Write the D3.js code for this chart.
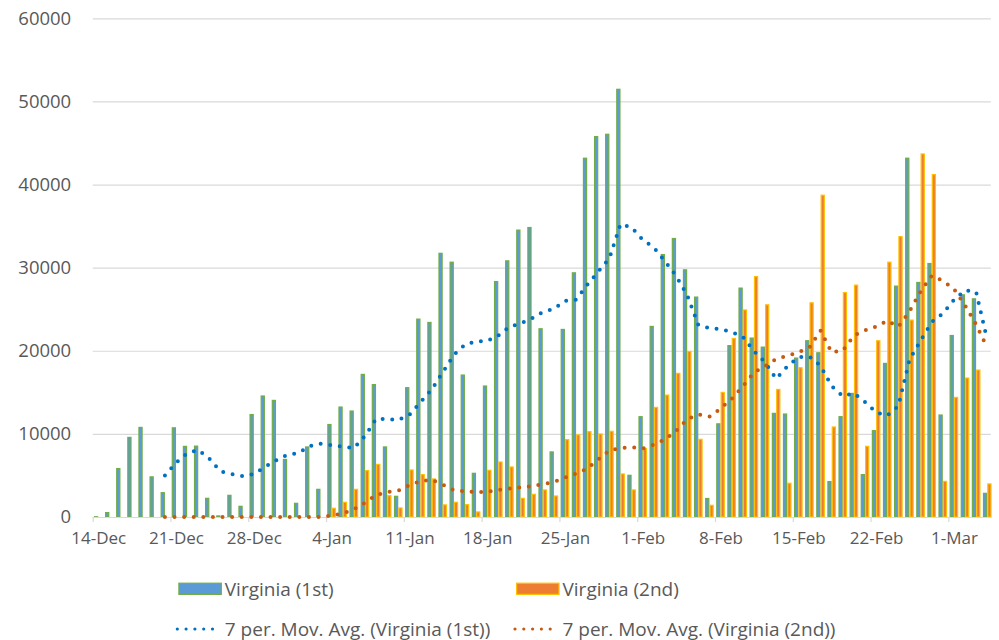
<!DOCTYPE html>
<html>
<head>
<meta charset="utf-8">
<script src="https://cdn.jsdelivr.net/npm/d3@7"></script>
<style>
  body { margin: 0; background: #fff; }
  text { font-family: "Open Sans", "Noto Sans", sans-serif; fill: #595959; }
</style>
</head>
<body>
<div id="chart"></div>
<script>
// daily doses, 14-Dec to 4-Mar
var startDay = new Date(2020, 11, 14);
var endDay = new Date(2021, 2, 5);
var days = d3.timeDay.range(startDay, endDay);

var seriesNames = ["Virginia (1st)", "Virginia (2nd)"];
var maNames = ["7 per. Mov. Avg. (Virginia (1st))", "7 per. Mov. Avg. (Virginia (2nd))"];

var firstDose = [100, 600, 5900, 9650, 10850, 4900, 3000, 10800, 8570, 8600,
  2320, 200, 2680, 1360, 12400, 14630, 14100, 7000, 1720, 8500,
  3400, 11200, 13300, 12820, 17230, 16000, 8500, 2560, 15630, 23880,
  23480, 31800, 30730, 17150, 5330, 15830, 28400, 30890, 34590, 34900,
  22720, 7900, 22640, 29450, 43240, 45840, 46120, 51530, 5090, 12140,
  23000, 31650, 33580, 29810, 26530, 2300, 11280, 20690, 27610, 21600,
  20510, 12540, 12460, 19190, 21280, 19830, 4330, 12140, 14940, 5170,
  10460, 18550, 27850, 43240, 28290, 30570, 12340, 21910, 26800, 26320,
  2920];

var secondDose = [0, 0, 0, 0, 0, 0, 0, 0, 0, 0,
  0, 0, 0, 0, 0, 0, 0, 0, 0, 0,
  0, 1120, 1840, 3400, 5650, 6400, 2640, 1160, 5730, 5170,
  4650, 1530, 1840, 1560, 680, 5690, 6690, 6090, 2320, 2800,
  3330, 2600, 9380, 9950, 10340, 10060, 10380, 5250, 3330, 8290,
  13260, 14740, 17350, 19990, 9420, 1480, 15060, 21550, 24980, 29000,
  25600, 15420, 4130, 18030, 25840, 38790, 10900, 27080, 27970, 8570,
  21280, 30730, 33810, 23760, 43750, 41270, 4360, 14460, 16790, 17750,
  4050];

var yTicks = [0, 10000, 20000, 30000, 40000, 50000, 60000];

var barFill = ["#5B9BD5", "#ED7D31"];
var barEdge = ["#70AD47", "#FFC000"];
var maColor = ["#0070C0", "#C55A11"];

var svgWidth = 999, svgHeight = 640;
var plotLeft = 92.7, plotRight = 992.8, plotTop = 18.3, plotBottom = 517;

var svg = d3.select("#chart").append("svg")
  .attr("width", svgWidth)
  .attr("height", svgHeight);

var x = d3.scaleTime().domain([startDay, endDay]).range([plotLeft, plotRight]);
var y = d3.scaleLinear().domain([0, 60000]).range([plotBottom, plotTop]);
var dayW = x(d3.timeDay.offset(startDay, 1)) - x(startDay);
var inner = d3.scaleBand().domain([0, 1]).range([1.2, 9.9]);

// gridlines
svg.append("g")
  .attr("transform", `translate(${plotLeft},0)`)
  .call(d3.axisLeft(y).tickValues(yTicks.slice(1)).tickSize(-(plotRight - plotLeft - 2)).tickFormat(""))
  .call(g => g.select(".domain").remove())
  .call(g => g.selectAll("line").attr("stroke", "#D9D9D9").attr("stroke-width", 1.2));

// y labels
svg.append("g")
  .attr("transform", `translate(${plotLeft},0)`)
  .call(d3.axisLeft(y).tickValues(yTicks).tickSize(0).tickPadding(21.5).tickFormat(d3.format("d")))
  .call(g => g.select(".domain").remove())
  .call(g => g.selectAll("text").style("font-size", "18.5px").attr("fill", "#595959"));

// bars
var seriesData = [firstDose, secondDose];
seriesData.forEach(function (vals, s) {
  svg.append("g").selectAll("rect")
    .data(vals)
    .enter()
    .append("rect")
    .attr("x", (d, i) => x(days[i]) + inner(s) + 0.6)
    .attr("width", inner.bandwidth() - 1.2)
    .attr("y", d => y(d) + 0.6)
    .attr("height", d => Math.max(0, plotBottom - y(d) - 0.6))
    .attr("fill", barFill[s])
    .attr("stroke", d => d > 0 ? barEdge[s] : "none")
    .attr("stroke-width", 1.2);
});

// x axis
var weekTicks = d3.timeDay.range(startDay, endDay, 7);
svg.append("g")
  .attr("transform", `translate(0,${plotBottom})`)
  .call(d3.axisBottom(x).tickValues(weekTicks).tickSize(5).tickPadding(10)
    .tickFormat(d3.timeFormat("%-d-%b")))
  .call(g => g.select(".domain").attr("stroke", "#D9D9D9").attr("stroke-width", 1.2)
    .attr("d", `M${plotLeft},0.5H${plotRight - 2}`))
  .call(g => g.selectAll("line").attr("stroke", "#D9D9D9").attr("stroke-width", 1.2))
  .call(g => g.selectAll("text").attr("dx", dayW / 2).style("font-size", "17px").attr("fill", "#595959"));

// 7 per. moving average trendlines
var line = d3.line()
  .x(d => x(days[d.i]) + dayW / 2)
  .y(d => y(d.v));

seriesData.forEach(function (vals, s) {
  var ma = [];
  for (var i = 6; i < vals.length; i++) {
    ma.push({ i: i, v: d3.mean(vals.slice(i - 6, i + 1)) });
  }
  svg.append("path")
    .datum(ma)
    .attr("d", line)
    .attr("fill", "none")
    .attr("stroke", maColor[s])
    .attr("stroke-width", 4)
    .attr("stroke-linecap", "round")
    .attr("stroke-dasharray", "0 9.6");
});

// legend
var legend = svg.append("g").style("font-size", "19px");
var legX = [178.3, 516];
seriesNames.forEach(function (name, s) {
  legend.append("rect")
    .attr("x", legX[s] + 0.6).attr("y", 583.2)
    .attr("width", 42.4).attr("height", 11.2)
    .attr("fill", barFill[s])
    .attr("stroke", barEdge[s])
    .attr("stroke-width", 1.2);
  legend.append("text")
    .attr("x", legX[s] + 46.5).attr("y", 595.5)
    .text(name);
});
maNames.forEach(function (name, s) {
  legend.append("line")
    .attr("x1", legX[s] - 1).attr("x2", legX[s] + 43)
    .attr("y1", 629).attr("y2", 629)
    .attr("stroke", maColor[s])
    .attr("stroke-width", 3.2)
    .attr("stroke-linecap", "round")
    .attr("stroke-dasharray", "0 8.8");
  legend.append("text")
    .attr("x", legX[s] + 46.5).attr("y", 635.5)
    .text(name);
});
</script>
</body>
</html>
